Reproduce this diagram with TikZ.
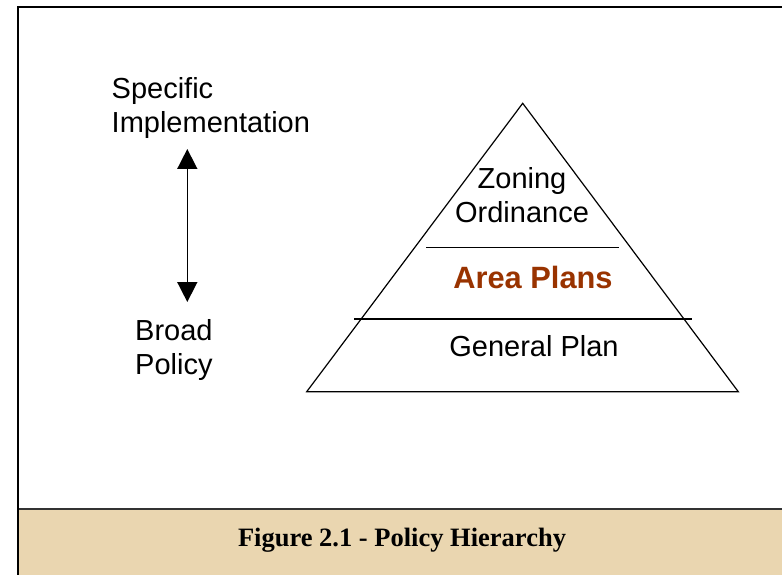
\documentclass[tikz,border=0pt]{standalone}
\usepackage{fontspec}
\setmainfont{Liberation Sans}
\newfontfamily\captionfont{Liberation Serif}
\usetikzlibrary{positioning, arrows.meta}

\definecolor{areabrown}{RGB}{153,51,0}
\definecolor{parchment}{RGB}{234,214,176}

\begin{document}
\begin{tikzpicture}[
    x=1pt, y=-1pt,
    label/.style={inner sep=0pt, align=left, font=\fontsize{29}{34}\selectfont},
    layer/.style={inner sep=0pt, align=center, font=\fontsize{29}{34}\selectfont},
    divider/.style={line width=1.2pt},
    myarrow/.style={{Triangle[length=20pt, width=20pt]}-{Triangle[length=20pt, width=20pt]}, line width=1.6pt}]

    \useasboundingbox (0,0) rectangle (782,575);
    \fill[white] (0,0) rectangle (782,575);

    % caption band
    \fill[parchment] (18,509) rectangle (782,575);
    \draw[line width=2pt, black!80] (18,509) -- (782,509);
    \draw[line width=2pt] (18,575) -- (18,7) -- (782,7);
    \node[inner sep=0pt, font=\captionfont\bfseries\fontsize{26.5}{30}\selectfont] (caption) at (402,540) {Figure 2.1 - Policy Hierarchy};

    % left scale
    \node[label, anchor=west] (specific) at (111.5,108) {Specific\\Implementation};
    \node[label, anchor=west] (broad) at (135,350) {Broad\\Policy};
    \coordinate (top) at (187.3,149);
    \coordinate (bottom) at (187.3,302);
    \draw[myarrow] (bottom) -- (top);

    % pyramid
    \coordinate (apex) at (522.7,103.3);
    \coordinate (baseleft) at (306.7,391.7);
    \coordinate (baseright) at (738.3,391.7);
    \draw[divider, line join=miter] (apex) -- (baseleft) -- (baseright) -- cycle;
    \draw[divider] (426,247.3) -- (619.3,247.3);
    \draw[divider] (354,319) -- (691.7,319);

    \node[layer] (zoning) at (522,195) {Zoning\\Ordinance};
    \node[layer, font=\bfseries\fontsize{30.8}{34}\selectfont, text=areabrown] (area) at (533,277) {Area Plans};
    \node[layer] (general) at (534,346) {General Plan};

\end{tikzpicture}
\end{document}
